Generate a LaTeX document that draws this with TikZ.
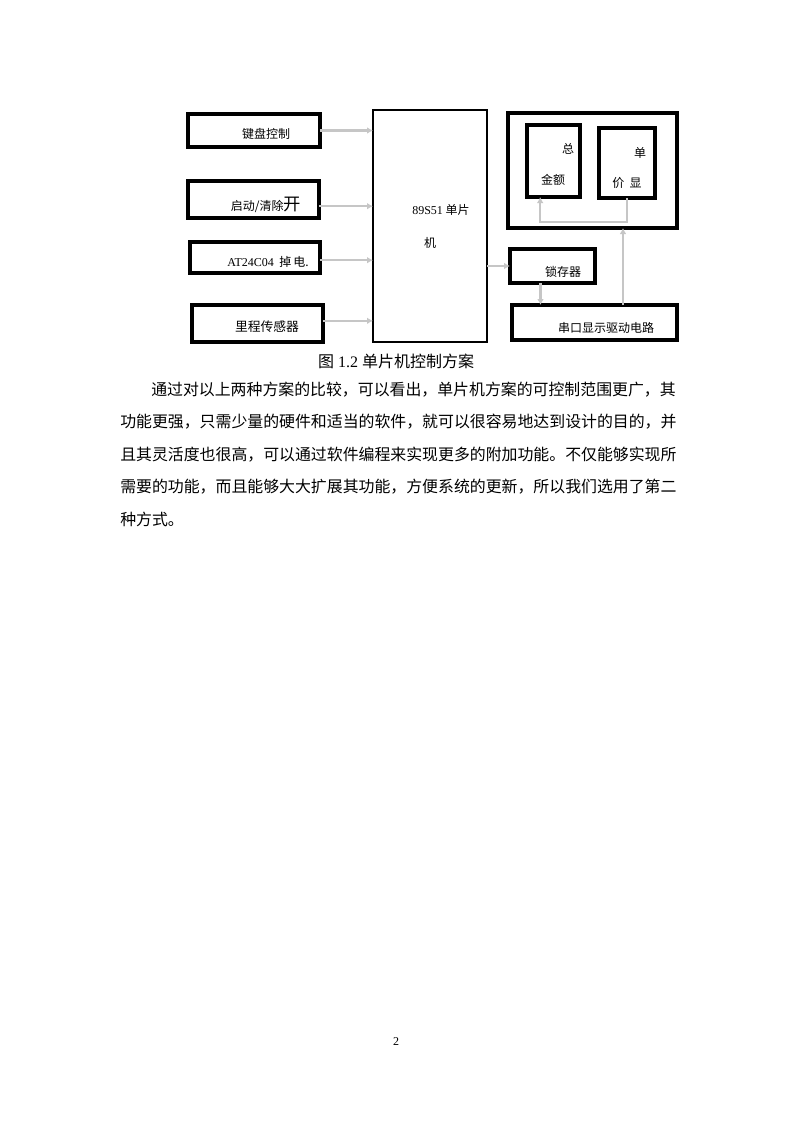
\documentclass[tikz,border=0pt]{standalone}
\usepackage{fontspec}
\setmainfont{Liberation Serif}
\newfontfamily\cjk{Noto Sans CJK SC}
\usetikzlibrary{arrows.meta}
\newcommand\mybox[6]{\node[box,line width=#6,minimum width={(#4-#2)*0.75pt},minimum height={(#5-#3)*0.75pt},anchor=north west] (#1) at (#2,#3) {};}
\begin{document}
\begin{tikzpicture}[x=0.75pt,y=-0.75pt,
  box/.style={draw=black,inner sep=0pt,outer sep=0pt},
  lbl/.style={inner sep=0pt,font=\cjk\fontsize{9}{10}\selectfont},
  arr/.style={draw=gray!45,line width=1.7pt,-{Latex[length=4.5pt,width=5pt]}},
  body/.style={inner sep=0pt,anchor=west,font=\cjk\fontsize{11.92}{14}\selectfont}]
\useasboundingbox[fill=white] (0,0) rectangle (793,1122);
% boxes
\mybox{k1}{188}{114}{320}{147}{2.3pt}
\mybox{k2}{188}{181}{319}{218}{2.3pt}
\mybox{k3}{190}{242}{320}{273}{2.3pt}
\mybox{k4}{192}{305}{323}{342}{2.3pt}
\mybox{mcu}{373}{110}{487}{342}{1.6pt}
\mybox{disp}{508}{113}{677}{228}{2.3pt}
\mybox{tot}{527}{125}{580}{197}{2.3pt}
\mybox{unit}{599}{128}{655}{198}{2.3pt}
\mybox{latch}{510}{249}{595}{283}{2.3pt}
\mybox{ser}{512}{305}{677}{340}{2.3pt}
% labels
\node[lbl] (t1) at (266,134) {键盘控制};
\node[lbl] (t2) at (266,205) {启动/清除{\fontsize{13}{14}\selectfont 开}};
\node[lbl] (t3) at (268,262) {{\rmfamily AT24C04}\ \ 掉\,电.};
\node[lbl,font=\cjk\fontsize{9.6}{10}\selectfont] (t4) at (267,327) {里程传感器};
\node[lbl] (t5) at (441,210) {{\rmfamily 89S51} 单片};
\node[lbl] (t6) at (430,243) {机};
\node[lbl] (t7) at (568,149) {总};
\node[lbl] (t8) at (553,180) {金额};
\node[lbl] (t9) at (640,153) {单};
\node[lbl] (t10) at (627,183) {价\ \ 显};
\node[lbl] (t11) at (563,272) {锁存器};
\node[lbl] (t12) at (606,328) {串口显示驱动电路};
% connectors
\draw[arr] (k1.east) -- (k1.east -| mcu.west);
\draw[arr] ([yshift=-5pt]k2.east) -- ([yshift=-5pt]k2.east -| mcu.west);
\draw[arr] ([yshift=-2pt]k3.east) -- ([yshift=-2pt]k3.east -| mcu.west);
\draw[arr] ([yshift=2pt]k4.east) -- ([yshift=2pt]k4.east -| mcu.west);
\draw[arr] (latch.west -| mcu.east) -- (latch.west);
\coordinate (lt) at ([xshift=-9pt]latch.south);
\draw[arr] (lt) -- (lt |- ser.north);
\coordinate (sr) at ([xshift=-3pt]unit.south);
\draw[arr] (sr |- ser.north) -- (sr |- disp.south);
\coordinate (ub) at ([xshift=0pt]unit.south);
\coordinate (tb) at ([xshift=-10pt]tot.south);
\coordinate (jn) at ([yshift=4.5pt]ub |- disp.south);
\draw[arr] (ub) -- (jn) -- (tb |- jn) -- (tb);
% caption and text
\node[inner sep=0pt,font=\fontsize{12}{14}\selectfont] (cap) at (396,361) {{\cjk 图} 1.2 {\cjk 单片机控制方案}};
\node[body] (l1) at (151,390) {通过对以上两种方案的比较，可以看出，单片机方案的可控制范围更广，其};
\node[body] (l2) at (120,422) {功能更强，只需少量的硬件和适当的软件，就可以很容易地达到设计的目的，并};
\node[body] (l3) at (120,455) {且其灵活度也很高，可以通过软件编程来实现更多的附加功能。不仅能够实现所};
\node[body] (l4) at (120,487) {需要的功能，而且能够大大扩展其功能，方便系统的更新，所以我们选用了第二};
\node[body] (l5) at (120,519) {种方式。};
\node[inner sep=0pt,font=\fontsize{9}{10}\selectfont] (pg) at (396,1042) {2};
\end{tikzpicture}
\end{document}
